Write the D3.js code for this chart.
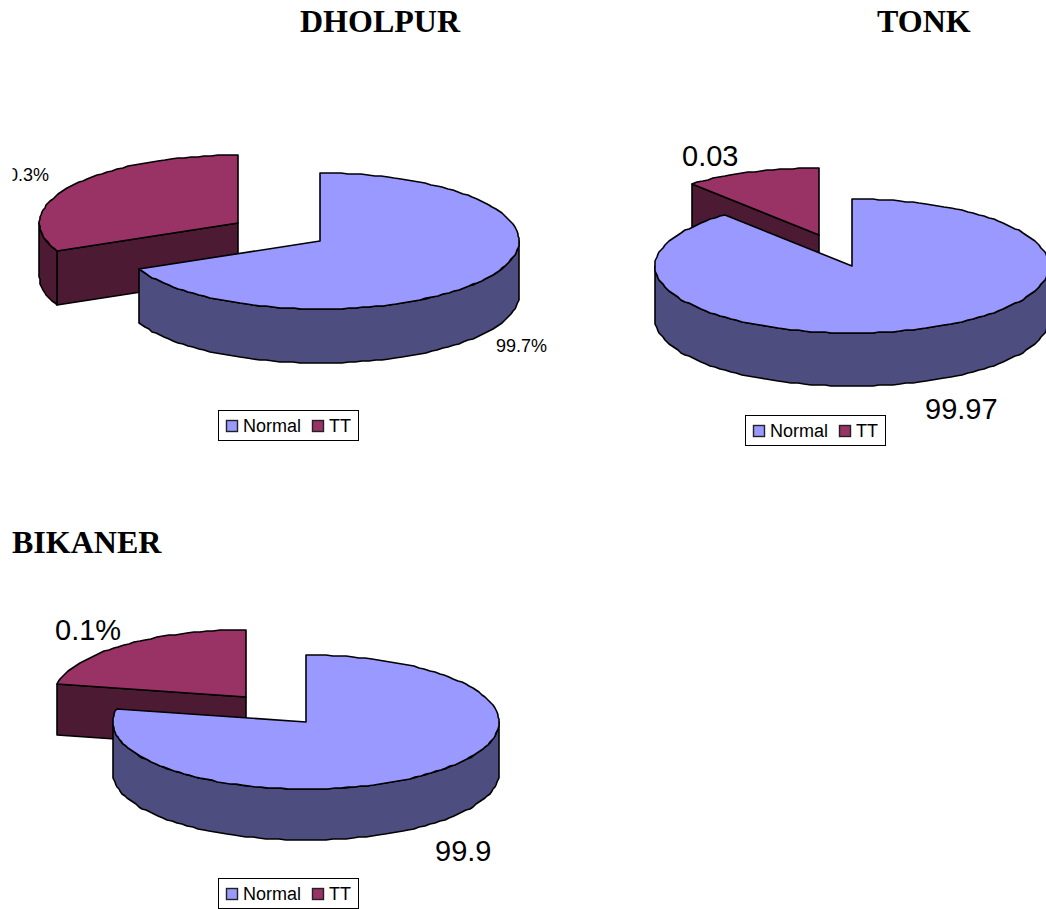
<!DOCTYPE html>
<html>
<head>
<meta charset="utf-8">
<script src="https://cdn.jsdelivr.net/npm/d3@7/dist/d3.min.js"></script>
<style>
  html, body { margin: 0; padding: 0; background: #fff; overflow: hidden; }
  svg { display: block; }
  text { font-family: "Liberation Sans", Arial, sans-serif; fill: #000; }
  .title { font-family: "Liberation Serif", "Times New Roman", serif; font-weight: bold; font-size: 32px; }
</style>
</head>
<body>
<svg id="chart" width="1046" height="909"></svg>
<script>
// Share of screened people in each district
const districts = ["DHOLPUR", "TONK", "BIKANER"];
const categories = ["Normal", "TT"];
const normalValues = [99.7, 99.97, 99.9];
const ttValues = [0.3, 0.03, 0.1];
const normalSuffix = ["%", "", ""];
const ttSuffix = ["%", "", "%"];

// Where each district's pie, heading, labels and legend sit on the page
const layouts = [
  { cx: 320, cy: 241, rx: 199, ry: 68, depth: 54, explode: 97, titleX: 300, titleY: 32,
    normalLabel: [496, 352], ttLabel: [8, 181], labelSize: 18, legend: [218, 410], clipLeft: 12.5 },
  { cx: 852, cy: 266, rx: 197, ry: 67, depth: 53, explode: 97, titleX: 877, titleY: 32,
    normalLabel: [925, 419], ttLabel: [682, 166], labelSize: 29, legend: [745, 415], clipLeft: 0 },
  { cx: 306, cy: 722, rx: 193, ry: 67, depth: 51, explode: 94, titleX: 12, titleY: 553,
    normalLabel: [435, 861], ttLabel: [55, 640], labelSize: 29, legend: [218, 878], clipLeft: 0 }
];

const colours = d3.scaleOrdinal().domain(categories).range(["#9999ff", "#993366"]);
const wallColours = d3.scaleOrdinal().domain(categories).range(["#4d4d80", "#4d1a33"]);

// TT shares are tiny, so the wedge sweep follows a log scale of the share
// (in degrees); the Normal slice takes whatever remains of the circle.
const sweep = d3.scaleLog().domain([0.03, 0.3]).range([40, 114.5]);
const tau = 2 * Math.PI;

const pie = d3.pie().sort(null).value(d => d.sweep);
const outline = d3.line();
const svg = d3.select("#chart");
const defs = svg.append("defs");

// Rim points snap to whole pixels, which gives the outline a slightly stepped edge.
function project(l, angle, radius, ox, oy, drop) {
  return [
    Math.round(l.cx + ox + radius * l.rx * Math.sin(angle)),
    Math.round(l.cy + oy - radius * l.ry * Math.cos(angle)) + drop
  ];
}

function rim(l, a0, a1, ox, oy, drop) {
  const steps = Math.max(2, Math.ceil(Math.abs(a1 - a0) / (tau / 180)));
  return d3.range(steps + 1).map(i =>
    project(l, a0 + (a1 - a0) * i / steps, 1, ox, oy, drop));
}

function drawSlice(g, l, s) {
  const name = s.data.name;
  const mid = (s.startAngle + s.endAngle) / 2;
  const ox = name === "TT" ? l.explode * Math.sin(mid) : 0;
  const oy = name === "TT" ? -l.explode * (l.ry / l.rx) * Math.cos(mid) : 0;
  const apex = project(l, 0, 0, ox, oy, 0);
  const apexLow = project(l, 0, 0, ox, oy, l.depth);
  const face = (pts, fill) => g.append("path")
    .attr("d", outline(pts) + "Z")
    .attr("fill", fill)
    .attr("stroke", "#000")
    .attr("stroke-width", 1.6)
    .attr("stroke-linejoin", "round");

  // The exposed cut edge of the wedge comes first, the curved wall next, the lid last.
  if (name === "TT") {
    const edge = project(l, s.startAngle, 1, ox, oy, 0);
    const edgeLow = project(l, s.startAngle, 1, ox, oy, l.depth);
    face([apex, edge, edgeLow, apexLow], wallColours(name));
  }
  const wallFrom = Math.max(s.startAngle, tau / 4);
  const wallTo = Math.min(s.endAngle, 3 * tau / 4);
  if (wallTo > wallFrom) {
    const upper = rim(l, wallFrom, wallTo, ox, oy, 0);
    const lower = rim(l, wallTo, wallFrom, ox, oy, l.depth);
    face(upper.concat(lower), wallColours(name));
  }
  face([apex].concat(rim(l, s.startAngle, s.endAngle, ox, oy, 0)), colours(name));
}

function drawLegend(l) {
  const [x, y] = l.legend;
  const g = svg.append("g").attr("transform", `translate(${x},${y})`);
  g.append("rect").attr("x", 0.5).attr("y", 0.5).attr("width", 140).attr("height", 30)
    .attr("fill", "#fff").attr("stroke", "#000").attr("stroke-width", 1);
  const offsets = d3.scaleOrdinal().domain(categories).range([8, 94]);
  categories.forEach(c => {
    g.append("rect").attr("x", offsets(c) + 0.5).attr("y", 10.5).attr("width", 11).attr("height", 11)
      .attr("fill", colours(c)).attr("stroke", "#222").attr("stroke-width", 1.4);
    g.append("text").attr("x", offsets(c) + 17).attr("y", 22)
      .attr("font-size", 18).text(c);
  });
}

districts.forEach((district, i) => {
  const l = layouts[i];
  const ttSweep = sweep(ttValues[i]);
  const slices = pie([
    { name: "Normal", value: normalValues[i], sweep: 360 - ttSweep },
    { name: "TT", value: ttValues[i], sweep: ttSweep }
  ]);

  svg.append("text").attr("class", "title")
    .attr("x", l.titleX).attr("y", l.titleY).text(district);

  // The wedge is pulled out behind the main slice, so it is painted first.
  const g = svg.append("g");
  drawSlice(g, l, slices[1]);
  drawSlice(g, l, slices[0]);

  const labels = svg.append("g");
  labels.append("text")
    .attr("x", l.normalLabel[0]).attr("y", l.normalLabel[1])
    .attr("font-size", l.labelSize)
    .text(normalValues[i] + normalSuffix[i]);
  const tt = labels.append("text")
    .attr("x", l.ttLabel[0]).attr("y", l.ttLabel[1])
    .attr("font-size", l.labelSize)
    .text(ttValues[i] + ttSuffix[i]);
  if (l.clipLeft) {
    defs.append("clipPath").attr("id", "label-clip-" + i)
      .append("rect").attr("x", l.clipLeft).attr("y", 0).attr("width", 1046).attr("height", 909);
    tt.attr("clip-path", `url(#label-clip-${i})`);
  }

  drawLegend(l);
});
</script>
</body>
</html>
